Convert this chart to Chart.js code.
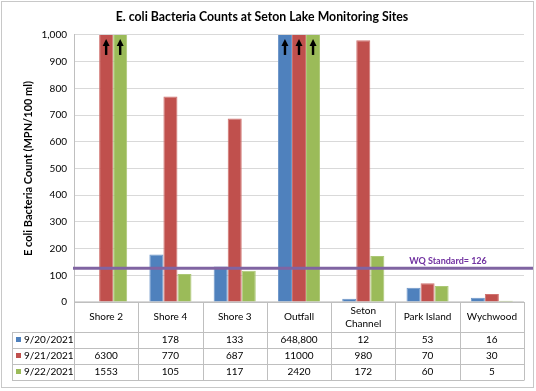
<!DOCTYPE html>
<html><head><meta charset="utf-8">
<style>html,body{margin:0;padding:0;background:#fff;}#wrap{width:536px;height:391px;}</style>
<script src="https://cdn.jsdelivr.net/npm/chart.js@4/dist/chart.umd.min.js"></script>
</head><body><div id="wrap"><canvas id="c" width="536" height="391"></canvas></div>
<script>
// ---- data ----
const categories = [['Shore 2'], ['Shore 4'], ['Shore 3'], ['Outfall'], ['Seton', 'Channel'], ['Park Island'], ['Wychwood']];
const seriesNames = ['9/20/2021', '9/21/2021', '9/22/2021'];
const values0920 = [null, 178, 133, 648800, 12, 53, 16];
const values0921 = [6300, 770, 687, 11000, 980, 70, 30];
const values0922 = [1553, 105, 117, 2420, 172, 60, 5];
const seriesColors = ['#4F81BD', '#C0504D', '#9BBB59'];
const seriesEdges = ['#6C95C8', '#D07270', '#ACC876'];
const yMin = 0, yMax = 1000, yStep = 100;
const wqStandard = 126;
const wqLabel = 'WQ Standard= 126';
const chartTitle = 'E. coli Bacteria Counts at Seton Lake Monitoring Sites';
const yTitle = 'E coli Bacteria Count (MPN/100 ml)';

const FONT = 'Lato, "Open Sans", sans-serif';
const seriesValues = [values0920, values0921, values0922];

function fmt(v) {
  if (v === null || v === undefined) return '';
  return v >= 100000 ? v.toLocaleString('en-US') : String(v);
}

const frame = {
  id: 'frame',
  beforeDraw(chart) {
    const c = chart.ctx;
    c.save();
    c.fillStyle = '#fff';
    c.fillRect(0, 0, chart.width, chart.height);
    c.strokeStyle = '#C8C8C8';
    c.lineWidth = 1;
    c.strokeRect(1.5, 1.5, chart.width - 4, chart.height - 5);
    c.restore();
  }
};

const overlay = {
  id: 'overlay',
  afterDatasetsDraw(chart) {
    const c = chart.ctx, ca = chart.chartArea, y = chart.scales.y;
    c.save();
    // arrows for off-scale bars
    chart.data.datasets.forEach((ds, di) => {
      const meta = chart.getDatasetMeta(di);
      meta.data.forEach((bar, i) => {
        const v = ds.data[i];
        if (v !== null && v > y.max) {
          const x = bar.x, t = ca.top;
          c.fillStyle = '#000';
          c.beginPath();
          c.moveTo(x, t + 4);
          c.lineTo(x - 3.5, t + 11);
          c.lineTo(x + 3.5, t + 11);
          c.closePath();
          c.fill();
          c.fillRect(x - 1.2, t + 10, 2.4, 10);
        }
      });
    });
    // WQ standard line
    const wy = y.getPixelForValue(wqStandard);
    c.strokeStyle = '#8064A2';
    c.lineWidth = 3;
    c.beginPath();
    c.moveTo(ca.left - 1, wy);
    c.lineTo(chart.width - 3, wy);
    c.stroke();
    c.fillStyle = '#7030A0';
    c.font = 'bold 9px ' + FONT;
    c.textAlign = 'center';
    c.textBaseline = 'middle';
    c.fillText(wqLabel, ca.right - 76, wy - 7.5);
    c.restore();
  },
  afterDraw(chart) {
    // data table under the x axis
    const c = chart.ctx, ca = chart.chartArea, x = chart.scales.x;
    const n = categories.length;
    const colW = (ca.right - ca.left) / n;
    const rowTop = ca.bottom + 30, rowH = 16, tableLeft = 12;
    const bottom = rowTop + rowH * seriesNames.length;
    c.save();
    c.strokeStyle = '#BFBFBF';
    c.lineWidth = 1;
    c.beginPath();
    for (let r = 0; r <= seriesNames.length; r++) {
      const yy = Math.round(rowTop + r * rowH) + 0.5;
      c.moveTo(tableLeft, yy); c.lineTo(ca.right, yy);
    }
    c.moveTo(ca.left, Math.round(ca.bottom) + 0.5); c.lineTo(ca.right, Math.round(ca.bottom) + 0.5);
    for (let k = 0; k <= n; k++) {
      const xx = Math.round(ca.left + k * colW) + 0.5;
      c.moveTo(xx, ca.bottom); c.lineTo(xx, bottom + 0.5);
    }
    c.moveTo(tableLeft + 0.5, rowTop); c.lineTo(tableLeft + 0.5, bottom + 0.5);
    c.stroke();
    c.font = '10px ' + FONT;
    c.textBaseline = 'middle';
    c.fillStyle = '#000';
    c.textAlign = 'center';
    // category header row
    const headCY = ca.bottom + 15, lh = 12.7;
    chart.data.labels.forEach((lab, i) => {
      const lines = Array.isArray(lab) ? lab : [lab];
      lines.forEach((ln, j) => {
        c.fillText(ln, x.getPixelForValue(i), headCY + (j - (lines.length - 1) / 2) * lh);
      });
    });
    seriesNames.forEach((name, r) => {
      const cy = rowTop + r * rowH + rowH / 2;
      c.fillStyle = seriesColors[r];
      c.fillRect(tableLeft + 4, cy - 3, 5, 5);
      c.fillStyle = '#000';
      c.textAlign = 'left';
      c.fillText(name, tableLeft + 12, cy);
      c.textAlign = 'center';
      seriesValues[r].forEach((v, i) => {
        c.fillText(fmt(v), x.getPixelForValue(i), cy);
      });
    });
    c.restore();
  }
};

new Chart(document.getElementById('c'), {
  type: 'bar',
  data: {
    labels: categories,
    datasets: seriesNames.map((name, r) => ({
      label: name,
      data: seriesValues[r],
      backgroundColor: seriesColors[r],
      borderColor: seriesEdges[r],
      borderWidth: 1,
      categoryPercentage: 0.655,
      barPercentage: 1
    }))
  },
  options: {
    responsive: false,
    animation: false,
    devicePixelRatio: 1,
    layout: { padding: { left: 0, right: 12, top: 0, bottom: 11 } },
    plugins: {
      legend: { display: false },
      tooltip: { enabled: false },
      title: {
        display: true, text: chartTitle, color: '#000',
        font: { family: FONT, size: 12.3, weight: 'bold', lineHeight: 1.2 },
        padding: { top: 9.6, bottom: 10.6 }
      }
    },
    scales: {
      x: {
        grid: { display: false, drawTicks: false },
        border: { display: false },
        ticks: { display: false },
        afterFit(s) { s.height = 78; }
      },
      y: {
        min: yMin, max: yMax,
        ticks: { stepSize: yStep, color: '#000', font: { family: FONT, size: 10 }, padding: 7 },
        grid: { color: '#D9D9D9', drawTicks: false },
        border: { display: true, color: '#BFBFBF' },
        title: { display: true, text: yTitle, color: '#000', font: { family: FONT, size: 11, weight: 'bold', lineHeight: 1.2 }, padding: { top: 22, bottom: 0 } },
        afterFit(s) { s.width = 74; }
      }
    }
  },
  plugins: [frame, overlay]
});
</script>
</body></html>
